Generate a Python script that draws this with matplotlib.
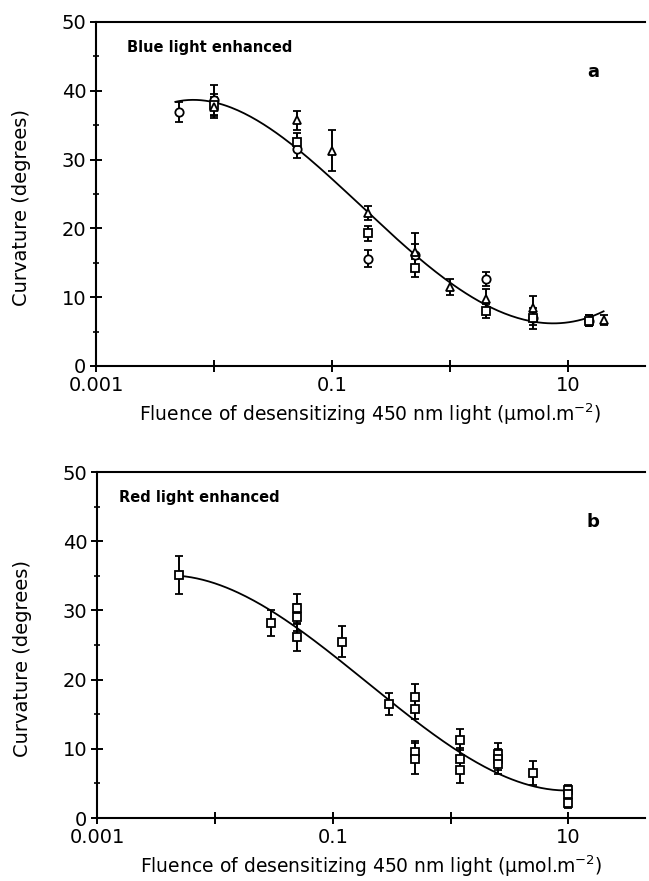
import numpy as np
import matplotlib
matplotlib.use("Agg")
import matplotlib.pyplot as plt
from matplotlib.ticker import FixedLocator, FixedFormatter, MultipleLocator, NullLocator

# ---- panel a: blue light enhanced (three experiments) ----
a_circ_x = [0.005, 0.01, 0.05, 0.2, 0.5, 2.0, 5.0, 15.0]
a_circ_y = [36.9, 38.6, 31.5, 15.6, 16.2, 12.6, 6.9, 6.6]
a_circ_e = [1.5, 2.3, 1.3, 1.2, 1.5, 1.0, 1.0, 0.8]

a_sq_x = [0.01, 0.05, 0.2, 0.5, 2.0, 5.0, 15.0]
a_sq_y = [38.0, 32.5, 19.3, 14.3, 8.0, 6.9, 6.6]
a_sq_e = [1.5, 1.3, 1.1, 1.3, 1.0, 1.5, 0.8]

a_tri_x = [0.01, 0.05, 0.1, 0.2, 0.5, 1.0, 2.0, 5.0, 20.0]
a_tri_y = [37.6, 35.7, 31.3, 22.2, 16.6, 11.5, 9.7, 8.4, 6.7]
a_tri_e = [1.5, 1.4, 3.0, 1.0, 2.7, 1.2, 1.5, 1.7, 0.7]

# fitted curve
a_fit_x = [0.0047, 0.007, 0.01, 0.05, 0.17, 0.2, 0.5, 1.0, 2.0, 5.0, 7.9, 15.0, 20.0]
a_fit_y = [38.5, 38.5, 38.3, 31.9, 23.4, 22.2, 16.3, 12.0, 9.1, 6.6, 6.0, 6.9, 8.1]

# ---- panel b: red light enhanced ----
b_x = [0.005, 0.03, 0.05, 0.05, 0.05, 0.12, 0.3, 0.5, 0.5, 0.5, 0.5,
       1.2, 1.2, 1.2, 2.5, 2.5, 2.5, 5.0, 10.0, 10.0, 10.0]
b_y = [35.1, 28.2, 30.3, 29.0, 26.1, 25.5, 16.5, 17.5, 15.8, 9.6, 8.6,
       11.3, 8.6, 7.0, 9.3, 8.5, 7.8, 6.5, 4.0, 3.4, 2.1]
b_e = [2.7, 1.9, 2.1, 2.0, 2.0, 2.2, 1.6, 1.9, 1.5, 1.5, 2.2,
       1.5, 1.5, 2.0, 1.6, 1.5, 1.4, 1.7, 0.8, 0.8, 0.7]

b_fit_x = [0.005, 0.03, 0.05, 0.12, 0.17, 0.3, 0.5, 1.2, 2.5, 5.0, 10.0]
b_fit_y = [35.1, 29.3, 27.7, 23.2, 20.7, 16.3, 14.2, 9.3, 6.5, 4.8, 3.9]

xticks = [0.001, 0.01, 0.1, 1, 10]
xticklabels = ["0.001", "", "0.1", "", "10"]
XMAX = 10 ** 1.653

XLABEL = r"Fluence of desensitizing 450 nm light ($\mathregular{\mu}$mol.m$^{\mathregular{-2}}$)"
FS = 14


def smooth(xs, ys, deg=4):
    lx = np.log10(xs)
    c = np.polyfit(lx, ys, deg)
    g = np.linspace(lx.min(), lx.max(), 200)
    return 10 ** g, np.polyval(c, g)


def _style(ax, tag, title, tx, ty):
    ax.set_xscale("log")
    ax.set_xlim(0.001, XMAX)
    ax.set_ylim(0, 50)
    ax.xaxis.set_major_locator(FixedLocator(xticks))
    ax.xaxis.set_major_formatter(FixedFormatter(xticklabels))
    ax.xaxis.set_minor_locator(NullLocator())
    ax.yaxis.set_major_locator(MultipleLocator(10))
    ax.yaxis.set_minor_locator(MultipleLocator(5))
    ax.spines["right"].set_visible(False)
    for s in ("left", "bottom", "top"):
        ax.spines[s].set_linewidth(1.5)
    ax.tick_params(which="major", direction="inout", length=8, width=1.4,
                   labelsize=FS, pad=3)
    ax.tick_params(which="minor", direction="inout", length=4, width=1.2)
    ax.set_ylabel("Curvature (degrees)", fontsize=FS)
    ax.yaxis.set_label_coords(-0.118, 0.46)
    ax.set_xlabel(XLABEL, fontsize=13.5, labelpad=5)
    ax.text(tx, ty, title, transform=ax.transAxes, fontsize=10.5,
            fontweight="bold", va="center", ha="left")
    ax.text(0.905, 0.855, tag, transform=ax.transAxes, fontsize=13,
            fontweight="bold", va="center", ha="center")


eb = dict(color="black", elinewidth=1.4, capsize=3, capthick=1.4,
          markersize=6, markeredgewidth=1.3, markerfacecolor="white",
          linestyle="none")

fig = plt.figure(figsize=(6.49, 8.81), dpi=100)
ax1 = fig.add_axes([0.148, 0.5846, 0.846, 0.3905])
ax2 = fig.add_axes([0.1495, 0.0715, 0.845, 0.3927])

fx, fy = smooth(a_fit_x, a_fit_y)
ax1.plot(fx, fy, color="black", linewidth=1.3, zorder=2)
ax1.errorbar(a_circ_x, a_circ_y, yerr=a_circ_e, fmt="o", zorder=3, **eb)
ax1.errorbar(a_sq_x, a_sq_y, yerr=a_sq_e, fmt="s", zorder=3, **eb)
ax1.errorbar(a_tri_x, a_tri_y, yerr=a_tri_e, fmt="^", zorder=3, **eb)
_style(ax1, "a", "Blue light enhanced", 0.056, 0.927)

fx, fy = smooth(b_fit_x, b_fit_y, deg=3)
ax2.plot(fx, fy, color="black", linewidth=1.3, zorder=2)
ax2.errorbar(b_x, b_y, yerr=b_e, fmt="s", zorder=3, **eb)
_style(ax2, "b", "Red light enhanced", 0.04, 0.925)

fig.savefig("out.png", dpi=100)
